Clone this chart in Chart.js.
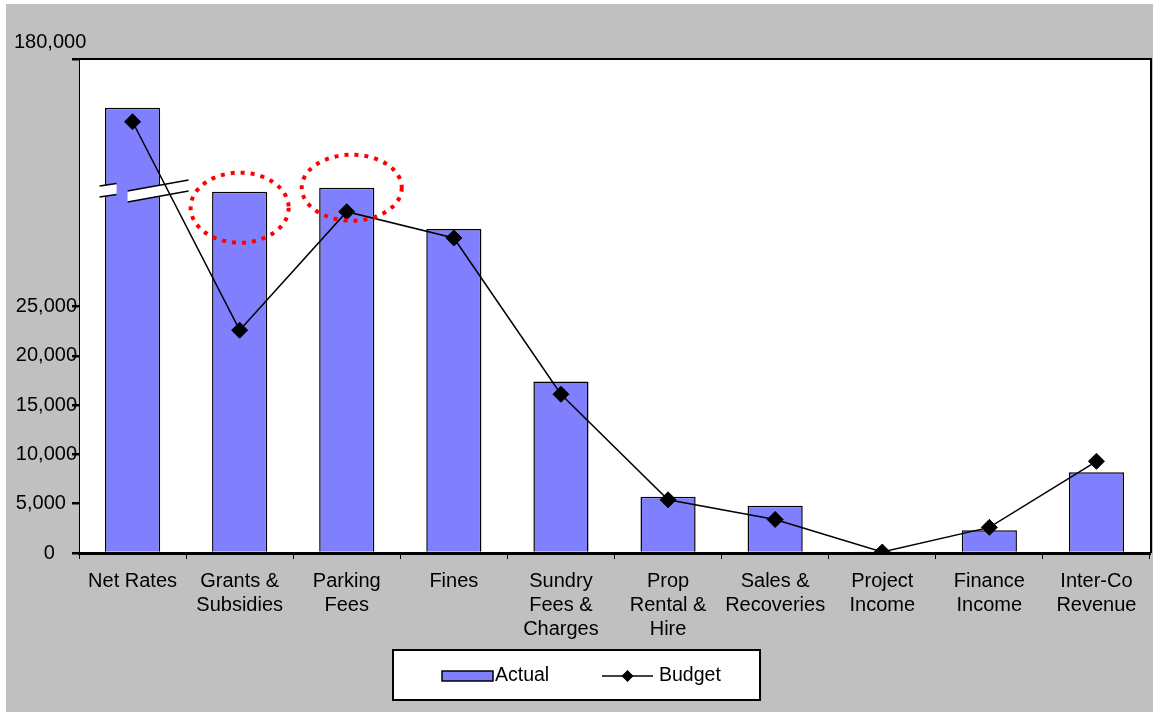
<!DOCTYPE html>
<html>
<head>
<meta charset="utf-8">
<title>Revenue - Actual vs Budget</title>
<script src="https://cdn.jsdelivr.net/npm/chart.js@4.4.1/dist/chart.umd.min.js"></script>
<style>
  html, body { margin: 0; padding: 0; background: #fff; }
  #wrap { width: 1153px; height: 713px; }
</style>
</head>
<body>
<div id="wrap"><canvas id="revChart" width="1153" height="713"></canvas></div>
<script>
// --- DATOS ---
const categories = [
    ['Net Rates'], ['Grants &', 'Subsidies'], ['Parking', 'Fees'], ['Fines'],
    ['Sundry', 'Fees &', 'Charges'], ['Prop', 'Rental &', 'Hire'], ['Sales &', 'Recoveries'],
    ['Project', 'Income'], ['Finance', 'Income'], ['Inter-Co', 'Revenue']
];
const actualValues = [149500, 96900, 99400, 73500, 17400, 5700, 4800, 150, 2300, 8200];
const budgetValues = [140700, 22600, 84400, 67900, 16100, 5400, 3400, 100, 2600, 9300];
const yTickValues = [0, 5000, 10000, 15000, 20000, 25000, 180000];

// eje cortado: 0-25,000 en la mitad de abajo, 25,000-180,000 arriba
const BREAK_AT = 25000;
const Y_TOP = 180000;
const LOW_SHARE = 0.499;

const FONT = '"Liberation Sans", Arial, sans-serif';
const BAR_BLUE = '#8080FF';

function toDecimal(v) {
    if (v <= BREAK_AT) return (v / BREAK_AT) * LOW_SHARE;
    return LOW_SHARE + (v - BREAK_AT) / (Y_TOP - BREAK_AT) * (1 - LOW_SHARE);
}
function fromDecimal(d) {
    if (d <= LOW_SHARE) return d / LOW_SHARE * BREAK_AT;
    return BREAK_AT + (d - LOW_SHARE) / (1 - LOW_SHARE) * (Y_TOP - BREAK_AT);
}

// --- ESCALA CON CORTE ---
class BrokenLinearScale extends Chart.LinearScale {
    getPixelForValue(value) {
        if (value === null || value === undefined || isNaN(value)) return NaN;
        return this.getPixelForDecimal(toDecimal(value));
    }
    getValueForPixel(pixel) {
        return fromDecimal(this.getDecimalForPixel(pixel));
    }
}
BrokenLinearScale.id = 'brokenLinear';
BrokenLinearScale.defaults = Chart.LinearScale.defaults;
Chart.register(BrokenLinearScale);

// --- PLUGINS DE DIBUJO ---
const backdrop = {
    id: 'backdrop',
    beforeDraw(chart) {
        const { ctx, chartArea: a } = chart;
        ctx.save();
        ctx.fillStyle = '#fff';
        ctx.fillRect(0, 0, chart.width, chart.height);
        ctx.fillStyle = '#C0C0C0';
        ctx.fillRect(6, 4, chart.width - 6, chart.height - 5);
        ctx.fillStyle = '#fff';
        ctx.fillRect(a.left, a.top, a.right - a.left, a.bottom - a.top);
        ctx.restore();
    }
};

// marca de corte blanca sobre la barra de Net Rates
const axisBreak = {
    id: 'axisBreak',
    afterDatasetDraw(chart, args) {
        if (args.meta.type !== 'bar') return;
        const bar = args.meta.data[0];
        const { ctx, chartArea: a } = chart;
        const cx = bar.x, top = a.top;
        const pieces = [
            [cx - 33, top + 127, cx - 16, top + 124.5],
            [cx - 5, top + 132, cx + 56, top + 121]
        ];
        ctx.save();
        pieces.forEach(([x1, y1, x2, y2]) => {
            const th = 11;
            ctx.fillStyle = '#fff';
            ctx.beginPath();
            ctx.moveTo(x1, y1); ctx.lineTo(x2, y2);
            ctx.lineTo(x2, y2 + th); ctx.lineTo(x1, y1 + th);
            ctx.closePath();
            ctx.fill();
            ctx.strokeStyle = '#000';
            ctx.lineWidth = 1.5;
            ctx.beginPath();
            ctx.moveTo(x1, y1); ctx.lineTo(x2, y2);
            ctx.moveTo(x1, y1 + th); ctx.lineTo(x2, y2 + th);
            ctx.stroke();
        });
        ctx.restore();
    }
};

// marco del área, círculos rojos, etiqueta 180,000 y leyenda
const overlay = {
    id: 'overlay',
    afterDraw(chart) {
        const { ctx, chartArea: a } = chart;
        const bars = chart.getDatasetMeta(1).data;
        ctx.save();

        // borde superior y derecho
        ctx.strokeStyle = '#000';
        ctx.lineWidth = 2;
        ctx.beginPath();
        ctx.moveTo(a.left, a.top); ctx.lineTo(a.right + 1, a.top); ctx.lineTo(a.right + 1, a.bottom);
        ctx.stroke();

        // óvalos punteados rojos
        ctx.strokeStyle = '#FF0000';
        ctx.lineWidth = 4;
        ctx.setLineDash([4, 6]);
        [[bars[1], 0, 16, 49, 35], [bars[2], 5, 0, 50, 33]].forEach(([b, dx, dy, rx, ry]) => {
            ctx.beginPath();
            ctx.ellipse(b.x + dx, b.y + dy, rx, ry, 0, 0, Math.PI * 2);
            ctx.stroke();
        });
        ctx.setLineDash([]);

        // etiqueta superior del eje
        ctx.fillStyle = '#000';
        ctx.font = '20px ' + FONT;
        ctx.textAlign = 'left';
        ctx.textBaseline = 'middle';
        ctx.fillText(Y_TOP.toLocaleString('en-US'), 14, a.top - 17);

        // leyenda
        const w = 367, h = 50;
        const lx = Math.round(chart.width / 2 - w / 2), ly = 650;
        const my = ly + 26;
        ctx.fillStyle = '#fff';
        ctx.fillRect(lx, ly, w, h);
        ctx.lineWidth = 2;
        ctx.strokeStyle = '#000';
        ctx.strokeRect(lx, ly, w, h);

        ctx.fillStyle = BAR_BLUE;
        ctx.fillRect(lx + 49, my - 5, 51, 10);
        ctx.lineWidth = 1.5;
        ctx.strokeRect(lx + 49, my - 5, 51, 10);

        ctx.beginPath();
        ctx.moveTo(lx + 209, my); ctx.lineTo(lx + 260, my);
        ctx.stroke();
        ctx.fillStyle = '#000';
        ctx.beginPath();
        ctx.moveTo(lx + 234.5, my - 6); ctx.lineTo(lx + 240.5, my);
        ctx.lineTo(lx + 234.5, my + 6); ctx.lineTo(lx + 228.5, my);
        ctx.closePath();
        ctx.fill();

        ctx.font = '19.5px ' + FONT;
        ctx.fillText(chart.data.datasets[1].label, lx + 102, my);
        ctx.fillText(chart.data.datasets[0].label, lx + 266, my);
        ctx.restore();
    }
};

// las etiquetas pequeñas quedan algo a la izquierda, como en el original
function yLabel(v) {
    if (v === Y_TOP) return '';
    const txt = Number(v).toLocaleString('en-US');
    if (v === 0) return txt + '    ';
    if (v === 5000) return txt + '  ';
    return txt;
}

// --- GRÁFICO ---
const ctx = document.getElementById('revChart').getContext('2d');
const myChart = new Chart(ctx, {
    data: {
        labels: categories,
        datasets: [
            {
                type: 'line',
                label: 'Budget',
                data: budgetValues,
                borderColor: '#000',
                borderWidth: 1.5,
                pointStyle: 'rectRot',
                pointRadius: 8,
                pointBackgroundColor: '#000',
                pointBorderColor: '#000',
                pointBorderWidth: 1,
                tension: 0,
                order: 1
            },
            {
                type: 'bar',
                label: 'Actual',
                data: actualValues,
                backgroundColor: BAR_BLUE,
                borderColor: '#000',
                borderWidth: 1.5,
                categoryPercentage: 1,
                barPercentage: 0.515,
                order: 2
            }
        ]
    },
    options: {
        responsive: false,
        animation: false,
        layout: { autoPadding: false, padding: { top: 59, right: 3, bottom: 63, left: 0 } },
        plugins: {
            legend: { display: false },
            tooltip: { enabled: false }
        },
        scales: {
            x: {
                afterFit: (scale) => {
                    scale.height = 97;
                    scale.paddingLeft = 0;
                    scale.paddingRight = 0;
                },
                border: { color: '#000', width: 3 },
                grid: { drawOnChartArea: false, offset: true, tickLength: 6, color: '#000', lineWidth: 1 },
                ticks: {
                    color: '#000', autoSkip: false, maxRotation: 0, padding: 10,
                    font: { family: FONT, size: 20, lineHeight: 1.2 }
                }
            },
            y: {
                type: 'brokenLinear',
                min: 0,
                max: Y_TOP,
                afterFit: (scale) => { scale.width = 79; },
                afterBuildTicks: (scale) => { scale.ticks = yTickValues.map(v => ({ value: v })); },
                border: { color: '#000', width: 1 },
                grid: { drawOnChartArea: false, tickLength: 7, color: '#000', lineWidth: 2.5 },
                ticks: {
                    color: '#000', autoSkip: false, padding: -5,
                    font: { family: FONT, size: 20 },
                    callback: yLabel
                }
            }
        }
    },
    plugins: [backdrop, axisBreak, overlay]
});
</script>
</body>
</html>
